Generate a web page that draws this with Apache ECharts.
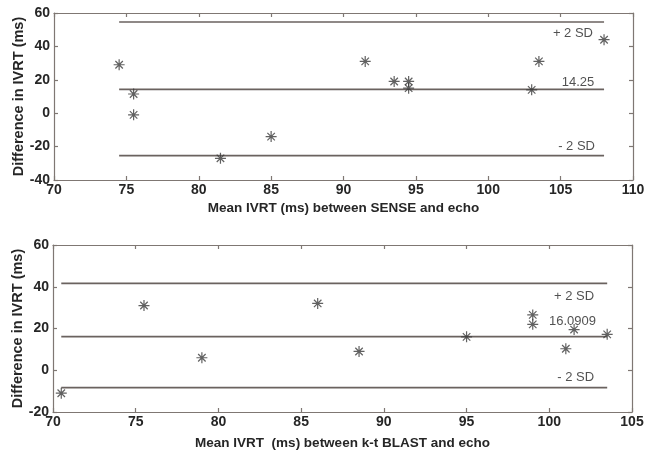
<!DOCTYPE html>
<html>
<head>
<meta charset="utf-8">
<script src="https://cdn.jsdelivr.net/npm/echarts@6/dist/echarts.min.js"></script>
<style>
html,body{margin:0;padding:0;background:#fff;}
#c{width:652px;height:454px;}
</style>
</head>
<body>
<div id="c"></div>
<script>
// ---- Top panel: SENSE vs echo ----
const senseX = [74.5, 75.5, 75.5, 81.5, 85.0, 91.5, 93.5, 94.5, 94.5, 103.0, 103.5, 108.0];
const senseY = [29, 11.5, -1, -27, -14, 31, 19, 19, 15, 14, 31, 44];
const senseLimits = [54.6, 14.25, -25.4];            // +2SD, mean, -2SD
const senseLabels = ['+ 2 SD', '14.25', '- 2 SD'];
const senseLabelAt = [[105.85, 48], [106.2, 18.7], [106.1, -19.6]];
const senseXTicks = [70, 75, 80, 85, 90, 95, 100, 105, 110];
const senseYTicks = [-40, -20, 0, 20, 40, 60];

// ---- Bottom panel: k-t BLAST vs echo ----
const blastX = [70.5, 75.5, 79.0, 86.0, 88.5, 95.0, 99.0, 99.0, 101.5, 101.0, 103.5];
const blastY = [-11, 31, 6, 32, 9, 16, 26.5, 22, 19.5, 10.3, 17.2];
const blastLimits = [41.6, 16.0909, -8.3];
const blastLabels = ['+ 2 SD', '16.0909', '- 2 SD'];
const blastLabelAt = [[101.5, 35.2], [101.4, 23.2], [101.6, -3.5]];
const blastXTicks = [70, 75, 80, 85, 90, 95, 100, 105];
const blastYTicks = [-20, 0, 20, 40, 60];

const xTitles = ['Mean IVRT (ms) between SENSE and echo', 'Mean IVRT  (ms) between k-t BLAST and echo'];
const yTitle = 'Difference in IVRT (ms)';

const FONT = '"Liberation Sans", Arial, sans-serif';
const boxColor = '#7f7773';
const lineColor = '#6a625f';
const starColor = '#3a3a3a';
const textColor = '#262626';
const star = 'path://M0,5L10,5M5,0L5,10M1.6,1.6L8.4,8.4M8.4,1.6L1.6,8.4';

const grids = [
  {left: 54, top: 13, width: 579, height: 167, outerBoundsMode: 'none', containLabel: false},
  {left: 53, top: 245, width: 579, height: 167, outerBoundsMode: 'none', containLabel: false}
];

function ticksRange(t){ return {min: t[0], max: t[t.length-1], interval: t[1]-t[0]}; }

const xAxes = [], yAxes = [], series = [];
const panels = [
  {x: senseX, y: senseY, lim: senseLimits, lab: senseLabels, at: senseLabelAt, xt: senseXTicks, yt: senseYTicks, gap: 21},
  {x: blastX, y: blastY, lim: blastLimits, lab: blastLabels, at: blastLabelAt, xt: blastXTicks, yt: blastYTicks, gap: 24}
];

panels.forEach((p, i) => {
  const xr = ticksRange(p.xt), yr = ticksRange(p.yt);
  const axLine = {show: true, onZero: false, lineStyle: {color: boxColor, width: 1.2}};
  const tick = {show: true, inside: true, length: 4, lineStyle: {color: boxColor, width: 1.2}};
  xAxes.push({
    type: 'value', gridIndex: i, position: 'bottom', ...xr,
    axisLine: axLine, axisTick: tick, splitLine: {show: false},
    axisLabel: {color: textColor, fontFamily: FONT, fontWeight: 'bold', fontSize: 14, margin: 3},
    name: xTitles[i], nameLocation: 'middle', nameGap: p.gap, nameMoveOverlap: false,
    nameTextStyle: {color: textColor, fontFamily: FONT, fontWeight: 'bold', fontSize: 13.5}
  });
  xAxes.push({
    type: 'value', gridIndex: i, position: 'top', ...xr,
    axisLine: axLine, axisTick: tick, splitLine: {show: false}, axisLabel: {show: false}
  });
  yAxes.push({
    type: 'value', gridIndex: i, position: 'left', ...yr,
    axisLine: axLine, axisTick: tick, splitLine: {show: false},
    axisLabel: {color: textColor, fontFamily: FONT, fontWeight: 'bold', fontSize: 14, margin: 4},
    name: yTitle, nameLocation: 'middle', nameGap: 28, nameRotate: 90, nameMoveOverlap: false,
    nameTextStyle: {color: textColor, fontFamily: FONT, fontWeight: 'bold', fontSize: 14.5}
  });
  yAxes.push({
    type: 'value', gridIndex: i, position: 'right', ...yr,
    axisLine: axLine, axisTick: tick, splitLine: {show: false}, axisLabel: {show: false}
  });
  const xmin = Math.min(...p.x), xmax = Math.max(...p.x);
  p.lim.forEach(v => {
    series.push({
      type: 'line', xAxisIndex: i*2, yAxisIndex: i*2, data: [[xmin, v], [xmax, v]],
      symbol: 'none', lineStyle: {color: lineColor, width: 1.6}, silent: true, z: 2
    });
  });
  series.push({
    type: 'scatter', xAxisIndex: i*2, yAxisIndex: i*2,
    data: p.x.map((v, k) => [v, p.y[k]]),
    symbol: star, symbolSize: 11,
    itemStyle: {color: 'rgba(0,0,0,0)', borderColor: starColor, borderWidth: 1.2}, z: 3
  });
  series.push({
    type: 'scatter', xAxisIndex: i*2, yAxisIndex: i*2,
    data: p.at.map((c, k) => ({value: c, label: {formatter: p.lab[k]}})),
    symbolSize: 0, silent: true,
    label: {show: true, position: 'inside', color: textColor, fontFamily: FONT, fontSize: 13}
  });
});

const chart = echarts.init(document.getElementById('c'), null, {renderer: 'canvas'});
chart.setOption({
  animation: false,
  backgroundColor: '#fff',
  grid: grids,
  xAxis: xAxes,
  yAxis: yAxes,
  series: series
});
</script>
</body>
</html>
